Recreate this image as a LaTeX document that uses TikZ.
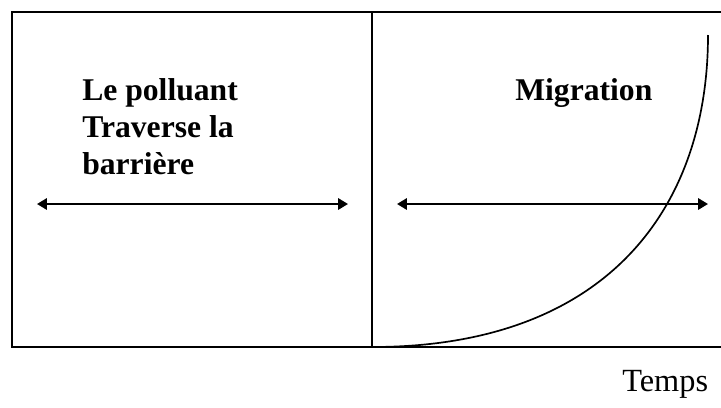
\documentclass[tikz,border=0pt]{standalone}
\usepackage{fontspec}
\setmainfont{Liberation Serif}
\usetikzlibrary{arrows.meta}
\tikzset{
  frame/.style={line width=1.7pt},
  span/.style={line width=1.5pt, {Triangle[length=7pt,width=8pt]}-{Triangle[length=7pt,width=8pt]}},
  label/.style={inner sep=0pt, font=\fontsize{22.5}{26.5}\selectfont\bfseries, align=left}
}
\begin{document}
\begin{tikzpicture}
\useasboundingbox (0,0) rectangle (18.025,10.175);
% cadre
\draw[frame] (18.025,9.875) -- (0.3,9.875) -- (0.3,1.5) -- (18.025,1.5);
\draw[line width=1.1pt] (9.3,9.875) -- (9.3,1.5);
% courbe
\coordinate (c0) at (9.3,1.5);
\coordinate (c1) at (17.7,9.3);
\draw[line width=1.2pt] (c0) .. controls (15.2,1.5) and (17.7,5.0) .. (c1);
% fleches
\coordinate (l0) at (0.925,5.075);
\coordinate (l1) at (8.7,5.075);
\coordinate (r0) at (9.925,5.075);
\coordinate (r1) at (17.7,5.075);
\draw[span] (l0) -- (l1);
\draw[span] (r0) -- (r1);
% textes
\node[label, anchor=north west] (pol) at (2.05,8.22) {Le polluant\\Traverse la\\barrière};
\node[label, anchor=base west] (mig) at (12.875,7.675) {Migration};
\node[inner sep=0pt, anchor=base west, font=\fontsize{23}{27}\selectfont] (tps) at (15.55,0.4) {Temps};
\end{tikzpicture}
\end{document}
